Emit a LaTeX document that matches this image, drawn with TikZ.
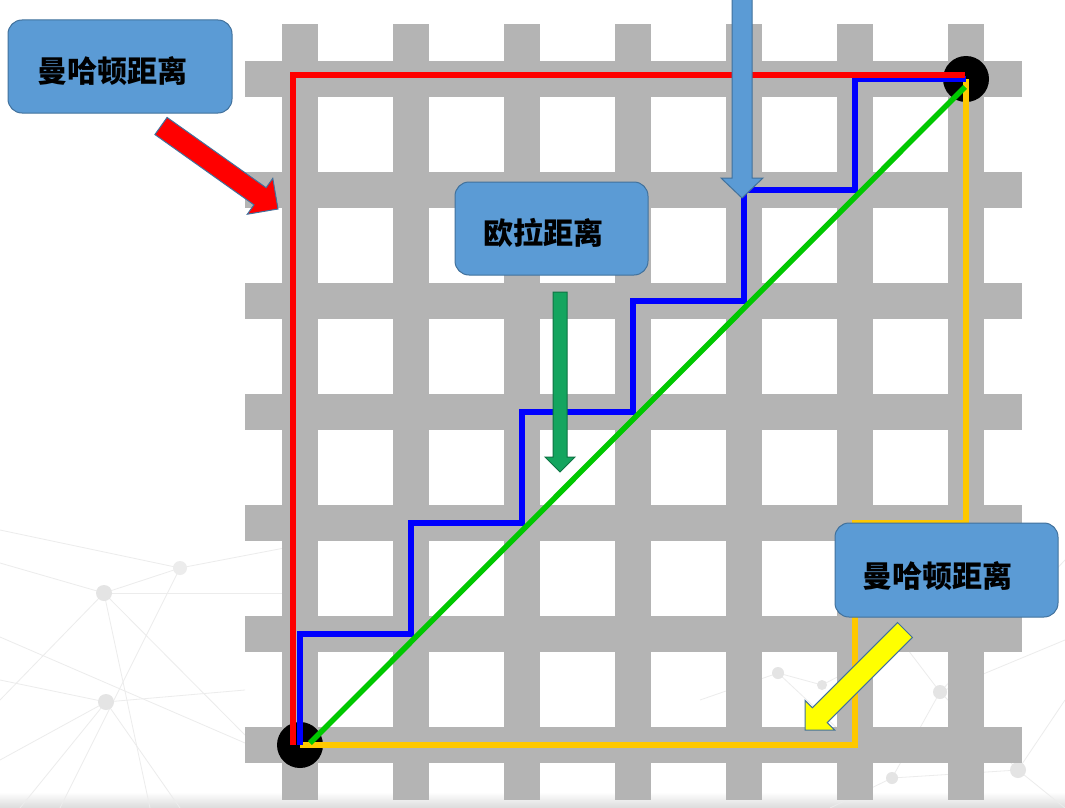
\documentclass[tikz,border=0pt]{standalone}
\usepackage{fontspec}
\newfontfamily\cjk{Noto Sans CJK SC}
\usetikzlibrary{calc}
\definecolor{barcol}{RGB}{180,180,180}
\definecolor{boxfill}{RGB}{91,155,213}
\definecolor{boxline}{RGB}{65,113,156}
\definecolor{pathred}{RGB}{255,0,0}
\definecolor{pathblue}{RGB}{0,0,255}
\definecolor{pathyellow}{RGB}{255,200,0}
\definecolor{pathgreen}{RGB}{0,200,0}
\definecolor{arrgreen}{RGB}{20,165,95}
\definecolor{arryellow}{RGB}{255,255,0}
\definecolor{netcol}{RGB}{236,236,236}
\definecolor{netdot}{RGB}{228,228,228}
\newcommand\blockarr[6]{%
  \coordinate (#2-base) at ($(#3)!#6!(#2)$);
  \path[#1] ($(#2)!#4!90:(#3)$) -- ($(#2-base)!#4!-90:(#2)$) -- ($(#2-base)!#5!-90:(#2)$) -- (#3)
    -- ($(#2-base)!#5!90:(#2)$) -- ($(#2-base)!#4!90:(#2)$) -- ($(#2)!#4!-90:(#3)$) -- cycle;}
\begin{document}
\begin{tikzpicture}[x=1pt,y=-1pt,
  vbar/.style={fill=barcol},
  box/.style={draw=boxline, fill=boxfill, rounded corners=14pt, line width=1pt, inner sep=0pt},
  lbl/.style={font=\cjk\bfseries\fontsize{30}{36}\selectfont, inner sep=0pt, text=black},
  dot/.style={circle, fill=black, minimum size=46pt, inner sep=0pt},
  pathline/.style={line width=6pt, line join=miter, line cap=butt},
  arrstyle/.style={draw=boxline, line width=1pt, line join=miter},
  net/.style={draw=netcol, line width=0.8pt}]
\useasboundingbox (0,0) rectangle (1065,808);
\fill[white] (0,0) rectangle (1065,808);
\shade[top color=white, bottom color=black!14] (0,792) rectangle (1065,808);
% faint network background
\draw[net] (0,530)--(180,568)--(300,545);
\draw[net] (0,563)--(104,593)--(180,568);
\draw[net] (104,593)--(300,593);
\draw[net] (104,593)--(245,735);
\draw[net] (180,568)--(60,808);
\draw[net] (104,593)--(0,700);
\draw[net] (0,637)--(245,743);
\draw[net] (106,702)--(0,760);
\draw[net] (106,702)--(180,808);
\draw[net] (106,702)--(245,690);
\draw[net] (0,680)--(106,702)--(20,808);
\draw[net] (104,593)--(150,808);
\draw[net] (700,700)--(778,673)--(822,685)--(870,660);
\draw[net] (940,692)--(1065,640);
\draw[net] (940,692)--(1018,770)--(1065,700);
\draw[net] (892,778)--(1018,770)--(1065,808);
\draw[net] (940,692)--(892,778)--(830,808);
\draw[net] (778,673)--(855,745);
\draw[net] (1065,560)--(940,692)--(870,600);
\fill[netdot] (104,593) circle (8);
\fill[netdot] (106,702) circle (8);
\fill[netcol] (180,568) circle (7);
\fill[netdot] (778,673) circle (6);
\fill[netdot] (822,685) circle (5);
\fill[netdot] (940,692) circle (7);
\fill[netdot] (1018,770) circle (8);
\fill[netdot] (892,778) circle (6);
% grid points
\foreach \i in {0,...,6}{\foreach \j in {0,...,6}{
  \coordinate (p\i\j) at ({300+111*\i},{745-111*\j});}}
% gray bars
\foreach \i in {0,...,6}{
  \fill[barcol] ({300+111*\i-18},24) rectangle ({300+111*\i+18},800);
  \fill[barcol] (245,{745-111*\i-18}) rectangle (1022,{745-111*\i+18});}
% end points
\node[dot] (d0) at (p00) {};
\node[dot] (d1) at (p66) {};
% paths
\draw[pathline, pathyellow] (p00) -- (p50) -- (p52) -- (p62) -- (p66);
\draw[pathline, pathblue] (p00) -- (p01) -- (p11) -- (p12) -- (p22) -- (p23) -- (p33) -- (p34)
  -- (p44) -- (p45) -- (p55) -- (p56) -- (p66);
\draw[pathline, pathred] ([shift={(-7,0)}]p00) -- ([shift={(-7,-4)}]p06) -- ([shift={(-1,-4)}]p66);
\draw[line width=5.5pt, pathgreen] ([shift={(10,-2)}]p00) -- ([shift={(-1,8)}]p66);
% boxes
\node[box, minimum width=224pt, minimum height=93pt] (b1) at (120,66.5) {};
\node[lbl] (t1) at ([shift={(-8,5)}]b1.center) {曼哈顿距离};
\node[box, minimum width=193pt, minimum height=93pt] (b2) at (551.5,228.5) {};
\node[lbl] (t2) at ([shift={(-8,4)}]b2.center) {欧拉距离};
\node[box, minimum width=223pt, minimum height=94pt] (b3) at (946.5,570) {};
\node[lbl] (t3) at ([shift={(-9,6)}]b3.center) {曼哈顿距离};
% block arrows
\coordinate (ra) at (161,126); \coordinate (rb) at (278,209);
\blockarr{arrstyle, fill=pathred}{ra}{rb}{10.5pt}{22pt}{22pt}
\coordinate (ga) at (560,292); \coordinate (gb) at (560,472);
\blockarr{arrstyle, fill=arrgreen, draw=arrgreen!70!black}{ga}{gb}{7pt}{15pt}{15pt}
\coordinate (ba) at (742,-5); \coordinate (bb) at (742,198);
\blockarr{arrstyle, fill=boxfill}{ba}{bb}{10pt}{21pt}{20pt}
\coordinate (ya) at (905,630); \coordinate (yb) at (805,730);
\blockarr{arrstyle, fill=arryellow}{ya}{yb}{10.5pt}{21pt}{21pt}
\end{tikzpicture}
\end{document}
